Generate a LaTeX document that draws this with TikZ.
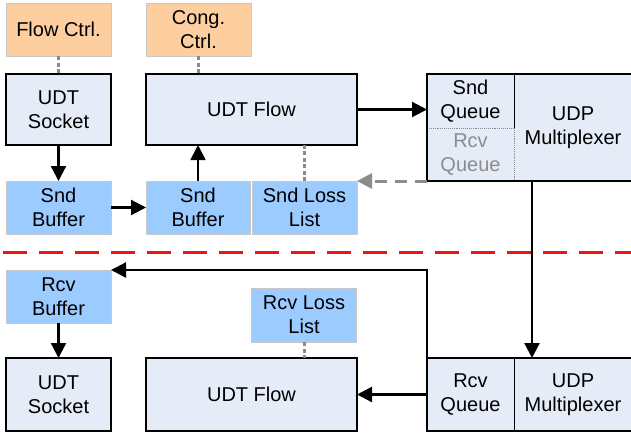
\documentclass[tikz,border=0pt]{standalone}
\usepackage{fontspec}
\setmainfont{Liberation Sans}
\usetikzlibrary{arrows.meta,calc}
\definecolor{ctrlfill}{RGB}{253,207,160}
\definecolor{buffill}{RGB}{156,203,255}
\definecolor{compfill}{RGB}{229,236,247}
\definecolor{thinedge}{RGB}{200,200,200}
\definecolor{dotgray}{RGB}{140,140,140}
\definecolor{sepred}{RGB}{235,20,20}
\begin{document}
\begin{tikzpicture}[x=1pt,y=-1pt,
  every node/.style={inner sep=0pt,outer sep=0pt,align=center,font=\fontsize{20}{24}\selectfont},
  ctrlbox/.style={rectangle,fill=ctrlfill,draw=thinedge,line width=0.8pt},
  bufbox/.style={rectangle,fill=buffill,draw=thinedge,line width=0.8pt},
  compbox/.style={rectangle,fill=compfill,draw=black,line width=2.8pt},
  cell/.style={rectangle,minimum width=87pt},
  link/.style={draw=black,line width=2.3pt,-{Triangle[length=15pt,width=15pt]}},
  thinlink/.style={draw=black,line width=1.7pt,-{Triangle[length=15pt,width=15pt]}},
  graylink/.style={draw=dotgray,line width=3pt,dash pattern=on 12pt off 8pt,-{Triangle[length=15pt,width=15pt]}},
  assoc/.style={draw=dotgray,line width=3pt,dash pattern=on 4pt off 2.5pt},
  sepline/.style={draw=sepred,line width=3pt,dash pattern=on 24pt off 12pt}
]
\useasboundingbox (0,0) rectangle (631,432);
\fill[white] (0,0) rectangle (631,432);

% top row
\node[ctrlbox,minimum width=105pt,minimum height=53pt] (flowctrl) at (58.5,29.5) {Flow Ctrl.};
\node[ctrlbox,minimum width=105pt,minimum height=53pt] (congctrl) at (198.5,29.5) {Cong.\\Ctrl.};
\node[compbox,minimum width=105pt,minimum height=71pt] (sock1) at (58.5,109.5) {UDT\\Socket};
\node[compbox,minimum width=211pt,minimum height=71pt] (flow1) at (251.5,109.5) {UDT Flow};
\node[bufbox,minimum width=105pt,minimum height=53pt] (sbuf1) at (58.5,207.5) {Snd\\Buffer};
\node[bufbox,minimum width=104pt,minimum height=53pt] (sbuf2) at (198,207.5) {Snd\\Buffer};
\node[bufbox,minimum width=105pt,minimum height=53pt] (sloss) at (304.5,207.5) {Snd Loss\\List};

% top multiplexer
\node[compbox,minimum width=208pt,minimum height=107pt] (mux1) at (531,127.5) {};
\node[cell,minimum height=54pt,anchor=north west] (sndq) at (mux1.north west) {Snd\\Queue};
\node[cell,minimum height=53pt,anchor=north west,text=dotgray] (rcvq1) at (sndq.south west) {Rcv\\Queue};
\node (udp1) at (573,127.5) {UDP\\Multiplexer};
\draw[black,line width=0.9pt] (sndq.north east) -- (sndq.south east);
\draw[dotgray,line width=0.9pt,densely dotted] (sndq.south west) -- (sndq.south east);
\draw[dotgray,line width=0.9pt,densely dotted] (rcvq1.north east) -- (rcvq1.south east);
\draw[black,line width=2.8pt] (mux1.north west) rectangle (mux1.south east);

% separator
\coordinate (sepL) at (3,252);
\coordinate (sepR) at (631,252);
\draw[sepline] (sepL) -- (sepR);

% bottom row
\node[bufbox,minimum width=105pt,minimum height=53pt] (rbuf) at (58.5,296.5) {Rcv\\Buffer};
\node[bufbox,minimum width=105pt,minimum height=54pt] (rloss) at (304,315) {Rcv Loss\\List};
\node[compbox,minimum width=105pt,minimum height=73pt] (sock2) at (58.5,394.5) {UDT\\Socket};
\node[compbox,minimum width=211pt,minimum height=73pt] (flow2) at (251.5,394.5) {UDT Flow};
\node[compbox,minimum width=208pt,minimum height=73pt] (mux2) at (531,394.5) {};
\node[cell,minimum height=73pt,anchor=north west] (rcvq2) at (mux2.north west) {Rcv\\Queue};
\node (udp2) at (573,394.5) {UDP\\Multiplexer};
\draw[black,line width=0.9pt] (rcvq2.north east) -- (rcvq2.south east);
\draw[black,line width=2.8pt] (mux2.north west) rectangle (mux2.south east);

% associations
\draw[assoc] (flowctrl.south) -- (sock1.north);
\draw[assoc] (congctrl.south) -- (congctrl.south |- flow1.north);
\draw[assoc] (sloss.north) -- (sloss.north |- flow1.south);
\draw[assoc] (rloss.south) -- (rloss.south |- flow2.north);

% send path
\draw[link] (sock1.south) -- (sbuf1.north);
\draw[link] (sbuf1.east) -- (sbuf2.west);
\draw[thinlink] (sbuf2.north) -- (sbuf2.north |- flow1.south);
\draw[link] (flow1.east) -- (flow1.east -| mux1.west);
\draw[graylink] (mux1.south west) -- (sloss.north east);
\coordinate (downstart) at ($(mux1.south)+(1,0)$);
\draw[link] (downstart) -- (downstart |- mux2.north);

% receive path
\draw[link] (mux2.west) -- (flow2.east);
\draw[link] (mux2.north west) -- ++(0,-88) -- (rbuf.north east);
\draw[link] (rbuf.south) -- (sock2.north);
\end{tikzpicture}
\end{document}
